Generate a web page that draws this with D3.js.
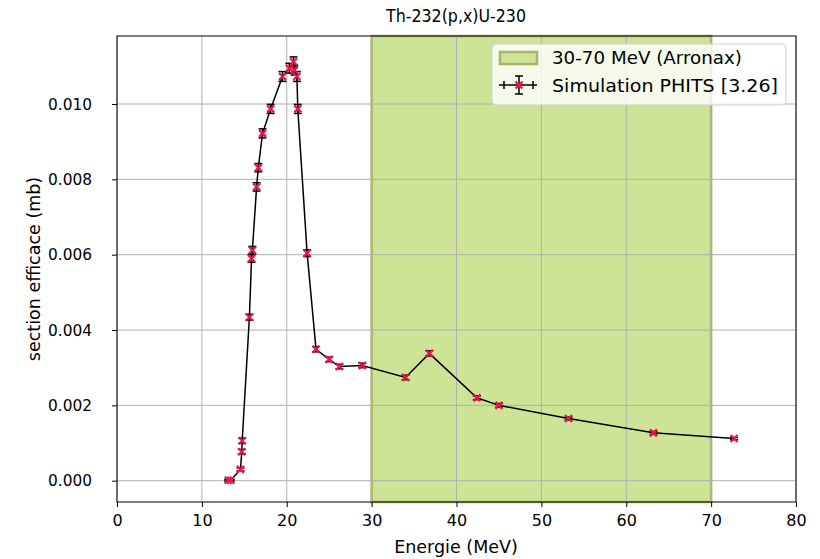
<!DOCTYPE html>
<html><head><meta charset="utf-8">
<script src="https://cdn.jsdelivr.net/npm/d3@7"></script>
<style>body{margin:0;background:#fff}svg{display:block;font-family:"DejaVu Sans",sans-serif}</style>
</head><body>
<svg id="c" width="820" height="559"></svg>
<script>
const energy = [13.1, 13.4, 14.55, 14.7, 14.75, 15.6, 15.85, 15.95, 16.45, 16.65, 17.15, 18.1, 19.5, 20.3, 20.8, 20.9, 21.2, 21.3, 22.4, 23.45, 25.0, 26.2, 28.9, 34.0, 36.8, 42.4, 45.0, 53.2, 63.2, 72.7];
const section = [0.00001, 0.00001, 0.00030, 0.00077, 0.00106, 0.00434, 0.00590, 0.00612, 0.00780, 0.00831, 0.00922, 0.00987, 0.01073, 0.01095, 0.01112, 0.01090, 0.01073, 0.00987, 0.00604, 0.00349, 0.00322, 0.00303, 0.00306, 0.00274, 0.00338, 0.00220, 0.00200, 0.00165, 0.00127, 0.00112];
const errors = [0.00002, 0.00002, 0.00004, 0.00006, 0.00007, 0.00008, 0.00010, 0.00010, 0.00011, 0.00011, 0.00012, 0.00012, 0.00013, 0.00013, 0.00013, 0.00013, 0.00013, 0.00012, 0.00009, 0.00007, 0.00006, 0.00006, 0.00006, 0.00006, 0.00007, 0.00005, 0.00005, 0.00004, 0.00004, 0.00003];
const spanRange = [30, 70];
const xTicks = [0, 10, 20, 30, 40, 50, 60, 70, 80];
const yTicks = [0.000, 0.002, 0.004, 0.006, 0.008, 0.010];
const title = "Th-232(p,x)U-230";
const xLabel = "Energie (MeV)";
const yLabel = "section efficace (mb)";
const legendLabels = ["30-70 MeV (Arronax)", "Simulation PHITS [3.26]"];

const L = 117, R = 796, T = 36, B = 502;
const svg = d3.select("#c");
const x = d3.scaleLinear().domain([0, 80]).range([L, R]);
const y = d3.scaleLinear().domain([0, 0.010]).range([480.7, 104]);
const fs = 16;

// span
svg.append("rect").attr("x", x(spanRange[0])).attr("y", T).attr("width", x(spanRange[1]) - x(spanRange[0])).attr("height", B - T)
  .attr("fill", "#cde396").attr("stroke", "#a9b46a").attr("stroke-width", 2.5);

// grid
const g = svg.append("g");
xTicks.forEach(t => g.append("line").attr("x1", x(t)).attr("x2", x(t)).attr("y1", T).attr("y2", B).attr("stroke", "#b0b0b0").attr("stroke-width", 1));
yTicks.forEach(t => g.append("line").attr("x1", L).attr("x2", R).attr("y1", y(t)).attr("y2", y(t)).attr("stroke", "#b0b0b0").attr("stroke-width", 1));

// axes
const xAxis = svg.append("g").attr("transform", `translate(0,${B})`)
  .call(d3.axisBottom(x).tickValues(xTicks).tickFormat(d3.format("d")).tickSize(5).tickPadding(8));
const yAxis = svg.append("g").attr("transform", `translate(${L},0)`)
  .call(d3.axisLeft(y).tickValues(yTicks).tickFormat(d3.format(".3f")).tickSize(5).tickPadding(20));
[xAxis, yAxis].forEach(a => {
  a.select(".domain").remove();
  a.selectAll("text").attr("font-size", fs).attr("font-family", "DejaVu Sans").attr("fill", "#000");
  a.selectAll("line").attr("stroke", "#000");
});
yAxis.selectAll("text").attr("textLength", 44).attr("lengthAdjust", "spacingAndGlyphs");
svg.append("rect").attr("x", L).attr("y", T).attr("width", R - L).attr("height", B - T).attr("fill", "none").attr("stroke", "#000").attr("stroke-width", 1);

// data
const data = energy.map((e, i) => ({e, v: section[i], err: errors[i]}));
svg.append("path").datum(data).attr("fill", "none").attr("stroke", "#000").attr("stroke-width", 1.5)
  .attr("d", d3.line().x(d => x(d.e)).y(d => y(d.v)));
const cap = 4;
function errbar(sel, cx, y1, y2) {
  sel.append("line").attr("x1", cx).attr("x2", cx).attr("y1", y1).attr("y2", y2).attr("stroke", "#000").attr("stroke-width", 1.5);
  sel.append("line").attr("x1", cx - cap).attr("x2", cx + cap).attr("y1", y1).attr("y2", y1).attr("stroke", "#000").attr("stroke-width", 1.5);
  sel.append("line").attr("x1", cx - cap).attr("x2", cx + cap).attr("y1", y2).attr("y2", y2).attr("stroke", "#000").attr("stroke-width", 1.5);
}
const ms = 3.5;
function xmark(sel, cx, cy) {
  sel.append("path").attr("d", `M${cx-ms},${cy-ms}L${cx+ms},${cy+ms}M${cx-ms},${cy+ms}L${cx+ms},${cy-ms}`)
    .attr("stroke", "#e8174a").attr("stroke-width", 2.2);
}
const pts = svg.append("g");
data.forEach(d => errbar(pts, x(d.e), y(d.v + d.err), y(d.v - d.err)));
data.forEach(d => xmark(pts, x(d.e), y(d.v)));

// legend
const lg = svg.append("g");
lg.append("rect").attr("x", 492).attr("y", 44).attr("width", 294).attr("height", 61).attr("rx", 4)
  .attr("fill", "rgba(255,255,255,0.8)").attr("stroke", "#d0d0d0");
lg.append("rect").attr("x", 500).attr("y", 52).attr("width", 37).attr("height", 12)
  .attr("fill", "#cde396").attr("stroke", "#a9b46a").attr("stroke-width", 2.5);
lg.append("text").attr("x", 552).attr("y", 64).attr("font-size", 18.5).attr("textLength", 190).attr("lengthAdjust", "spacingAndGlyphs").text(legendLabels[0]);
lg.append("line").attr("x1", 499).attr("x2", 537).attr("y1", 85).attr("y2", 85).attr("stroke", "#000").attr("stroke-width", 1.5);
errbar(lg, 519, 76, 94);
[504, 533].forEach(px => lg.append("line").attr("x1", px).attr("x2", px).attr("y1", 81).attr("y2", 89).attr("stroke", "#000").attr("stroke-width", 1.5));
xmark(lg, 519, 85);
lg.append("text").attr("x", 552).attr("y", 92).attr("font-size", 18.5).attr("textLength", 226).attr("lengthAdjust", "spacingAndGlyphs").text(legendLabels[1]);

// labels
svg.append("text").attr("x", 456).attr("y", 22).attr("text-anchor", "middle").attr("font-size", 18)
  .attr("textLength", 140).attr("lengthAdjust", "spacingAndGlyphs").text(title);
svg.append("text").attr("x", 456).attr("y", 553).attr("text-anchor", "middle").attr("font-size", 17.5).text(xLabel);
svg.append("text").attr("transform", `translate(40,${(T + B) / 2}) rotate(-90)`).attr("text-anchor", "middle").attr("font-size", 17.5).text(yLabel);
</script>
</body></html>
